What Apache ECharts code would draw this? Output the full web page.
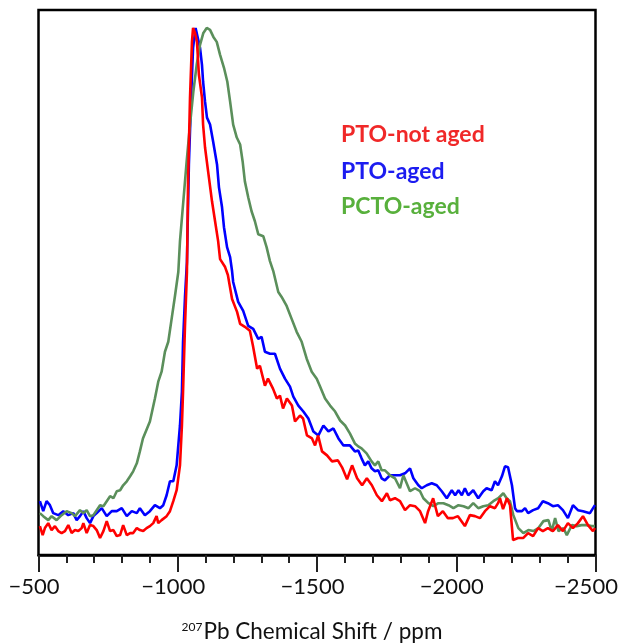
<!DOCTYPE html>
<html>
<head>
<meta charset="utf-8">
<script src="https://cdn.jsdelivr.net/npm/echarts@6/dist/echarts.min.js"></script>
<style>
html,body{margin:0;padding:0;background:#fff;}
#c{width:618px;height:644px;}
</style>
</head>
<body>
<div id="c"></div>
<script>
// x: 207Pb chemical shift (ppm), y: intensity (a.u.)
const seriesNames = ['PTO-not aged', 'PTO-aged', 'PCTO-aged'];
const xTicks = [-500, -1000, -1500, -2000, -2500];

const ptoNotAged = [
[-505,25],[-515,16],[-523,23],[-535,28],[-547,21],[-559,25],[-571,20],[-583,18],[-595,20],[-607,26],
[-619,18],[-631,21],[-643,20],[-655,23],[-661,28],[-673,18],[-685,26],[-697,25],[-709,21],[-721,13],
[-733,20],[-745,30],[-757,20],[-769,21],[-781,15],[-793,16],[-804,26],[-817,16],[-829,18],[-840,18],
[-853,23],[-864,21],[-876,20],[-888,23],[-900,25],[-912,28],[-924,35],[-930,28],[-942,31],[-960,35],
[-972,40],[-984,50],[-996,61],[-1008,86],[-1015,126],[-1019,160],[-1026,226],[-1033,280],[-1037,371],
[-1044,455],[-1051,511],[-1055,525],[-1062,520],[-1069,511],[-1076,478],[-1087,455],[-1091,428],
[-1098,405],[-1109,381],[-1123,351],[-1134,331],[-1145,311],[-1152,293],[-1170,285],[-1180,277],
[-1195,253],[-1213,240],[-1224,228],[-1241,225],[-1259,221],[-1270,206],[-1285,183],[-1295,186],
[-1313,166],[-1324,173],[-1342,163],[-1356,153],[-1367,156],[-1378,143],[-1392,153],[-1410,146],
[-1421,130],[-1439,136],[-1450,133],[-1464,116],[-1482,113],[-1493,106],[-1504,116],[-1518,100],
[-1536,96],[-1554,90],[-1575,91],[-1590,84],[-1608,72],[-1626,86],[-1644,73],[-1662,66],[-1679,73],
[-1697,66],[-1715,56],[-1733,50],[-1751,58],[-1762,51],[-1780,53],[-1798,50],[-1816,41],[-1834,46],
[-1852,45],[-1870,40],[-1888,28],[-1899,40],[-1917,53],[-1934,35],[-1952,40],[-1970,33],[-1988,33],
[-2006,35],[-2031,25],[-2049,36],[-2067,35],[-2085,33],[-2103,40],[-2121,45],[-2139,43],[-2150,48],
[-2157,53],[-2168,42],[-2182,53],[-2193,46],[-2204,11],[-2222,13],[-2240,13],[-2258,18],[-2276,15],
[-2294,23],[-2311,20],[-2329,23],[-2347,20],[-2365,26],[-2383,20],[-2401,28],[-2419,23],[-2437,28],
[-2455,35],[-2473,26],[-2491,20],[-2498,23]
];

const ptoAged = [
[-505,50],[-517,40],[-529,50],[-541,46],[-553,38],[-571,36],[-589,40],[-607,36],[-625,38],[-637,31],
[-649,35],[-661,40],[-673,33],[-685,28],[-697,35],[-709,38],[-727,43],[-745,35],[-763,40],[-781,40],
[-799,43],[-817,35],[-835,40],[-853,38],[-864,43],[-882,36],[-900,40],[-918,46],[-936,43],[-948,46],
[-960,56],[-972,70],[-984,70],[-996,86],[-1008,126],[-1015,160],[-1019,210],[-1026,255],[-1033,290],
[-1040,388],[-1048,455],[-1055,505],[-1064,525],[-1071,525],[-1080,505],[-1087,488],[-1091,471],
[-1098,451],[-1105,435],[-1116,428],[-1127,411],[-1141,388],[-1148,365],[-1159,345],[-1166,325],
[-1177,305],[-1188,295],[-1195,281],[-1199,270],[-1217,250],[-1235,241],[-1253,226],[-1271,223],
[-1289,213],[-1301,215],[-1313,200],[-1331,198],[-1349,198],[-1367,183],[-1385,173],[-1403,165],
[-1415,155],[-1433,146],[-1451,140],[-1469,133],[-1487,120],[-1505,116],[-1523,126],[-1541,120],
[-1559,123],[-1577,113],[-1595,106],[-1618,106],[-1636,100],[-1648,101],[-1660,93],[-1672,86],
[-1684,90],[-1696,83],[-1708,80],[-1720,81],[-1732,73],[-1744,71],[-1762,76],[-1780,76],[-1798,76],
[-1816,78],[-1834,83],[-1846,73],[-1864,66],[-1876,63],[-1894,66],[-1912,68],[-1930,66],[-1948,60],
[-1966,53],[-1984,61],[-1996,56],[-2008,61],[-2020,56],[-2031,63],[-2043,56],[-2061,61],[-2079,53],
[-2097,60],[-2109,63],[-2127,61],[-2139,70],[-2150,66],[-2164,75],[-2175,85],[-2186,84],[-2200,66],
[-2211,43],[-2218,40],[-2236,40],[-2247,43],[-2258,38],[-2276,41],[-2294,43],[-2311,50],[-2329,48],
[-2347,45],[-2365,46],[-2383,41],[-2401,33],[-2419,46],[-2437,41],[-2455,40],[-2480,38],[-2498,46]
];

const pctoAged = [
[-505,38],[-517,35],[-535,31],[-547,35],[-565,31],[-583,36],[-601,40],[-619,38],[-631,35],[-649,41],
[-661,38],[-673,41],[-685,35],[-697,36],[-709,41],[-721,46],[-733,45],[-745,50],[-757,55],[-769,53],
[-781,60],[-793,61],[-804,66],[-817,70],[-829,75],[-840,80],[-853,88],[-864,100],[-875,113],[-900,130],
[-918,153],[-930,170],[-942,180],[-954,200],[-966,210],[-978,233],[-990,256],[-1002,280],[-1008,311],
[-1020,351],[-1032,391],[-1044,428],[-1056,461],[-1068,488],[-1080,508],[-1092,520],[-1104,525],
[-1116,523],[-1128,516],[-1140,511],[-1152,498],[-1166,485],[-1178,471],[-1188,451],[-1199,428],
[-1212,415],[-1224,408],[-1233,391],[-1241,371],[-1253,355],[-1265,341],[-1277,331],[-1289,318],
[-1307,316],[-1319,305],[-1331,291],[-1343,281],[-1361,260],[-1373,255],[-1391,246],[-1409,233],
[-1427,220],[-1445,210],[-1463,193],[-1481,180],[-1499,173],[-1511,165],[-1529,153],[-1547,146],
[-1565,140],[-1583,131],[-1601,126],[-1618,118],[-1636,108],[-1648,105],[-1660,103],[-1678,98],
[-1696,90],[-1708,86],[-1720,90],[-1732,81],[-1744,81],[-1762,76],[-1780,73],[-1798,63],[-1810,76],
[-1822,68],[-1834,60],[-1852,63],[-1870,60],[-1882,53],[-1900,48],[-1918,45],[-1936,48],[-1954,48],
[-1972,46],[-1990,43],[-2008,46],[-2026,45],[-2044,43],[-2061,48],[-2079,43],[-2097,45],[-2115,46],
[-2133,50],[-2151,53],[-2169,58],[-2181,53],[-2193,50],[-2205,36],[-2223,23],[-2241,18],[-2259,21],
[-2277,20],[-2295,23],[-2313,30],[-2331,31],[-2343,20],[-2355,33],[-2367,20],[-2385,23],[-2397,16],
[-2415,26],[-2432,25],[-2450,26],[-2468,26],[-2486,25],[-2498,25]
];

const lineColors = ['#ff0000', '#0000ff', '#5b8f5b'];
const labelColors = ['#f02828', '#1c1cf0', '#58b03c'];

const chart = echarts.init(document.getElementById('c'), null, {renderer: 'canvas'});
const fontFam = 'Lato, "Open Sans", sans-serif';
const dataSets = [ptoNotAged, ptoAged, pctoAged];
const zOrder = [5, 3, 4];
const lastTick = xTicks[xTicks.length - 1];

chart.setOption({
  animation: false,
  grid: {left: 38.5, right: 22.5, top: 10, bottom: 89, show: true, borderColor: '#000', borderWidth: 2.5,
    backgroundColor: '#fff', containLabel: false, outerBoundsMode: 'none'},
  xAxis: {
    type: 'value', inverse: true, min: lastTick, max: xTicks[0], interval: 500,
    axisLine: {show: true, onZero: false, lineStyle: {color: '#000', width: 2.5}},
    axisTick: {show: true, inside: false, length: 17, lineStyle: {color: '#222', width: 2}},
    minorTick: {show: true, splitNumber: 5, length: 8, lineStyle: {color: '#222', width: 2}},
    splitLine: {show: false},
    axisLabel: {margin: 21, color: '#111', fontSize: 22, fontFamily: fontFam,
      formatter: v => (v === lastTick ? '{e|' : '{d|') + String(v).replace('-', '\u2212') + '}',
      rich: {d: {fontSize: 22, fontFamily: fontFam, color: '#111', padding: [0, 9, 0, 0]},
             e: {fontSize: 22, fontFamily: fontFam, color: '#111', padding: [0, 19, 0, 0]}}},
    name: '{s|207}{n|Pb Chemical Shift / ppm}', nameLocation: 'middle', nameGap: 65,
    nameTextStyle: {color: '#111', fontFamily: fontFam, padding: [0, 10, 0, 0],
      rich: {s: {fontSize: 12, fontFamily: fontFam, color: '#111', padding: [0, 1, 9, 0]},
             n: {fontSize: 22.5, fontFamily: fontFam, color: '#111'}}}
  },
  yAxis: {type: 'value', min: -4, max: 543, show: false, splitLine: {show: false}},
  graphic: seriesNames.map((n, i) => ({
    type: 'text', left: 341, top: [123, 160, 195][i],
    style: {text: n, fill: labelColors[i], font: 'bold 23px ' + fontFam}
  })),
  series: seriesNames.map((n, i) => ({
    name: n, type: 'line', data: dataSets[i], showSymbol: false, symbol: 'none',
    lineStyle: {color: lineColors[i], width: 2.6}, z: zOrder[i]
  }))
});
</script>
</body>
</html>
